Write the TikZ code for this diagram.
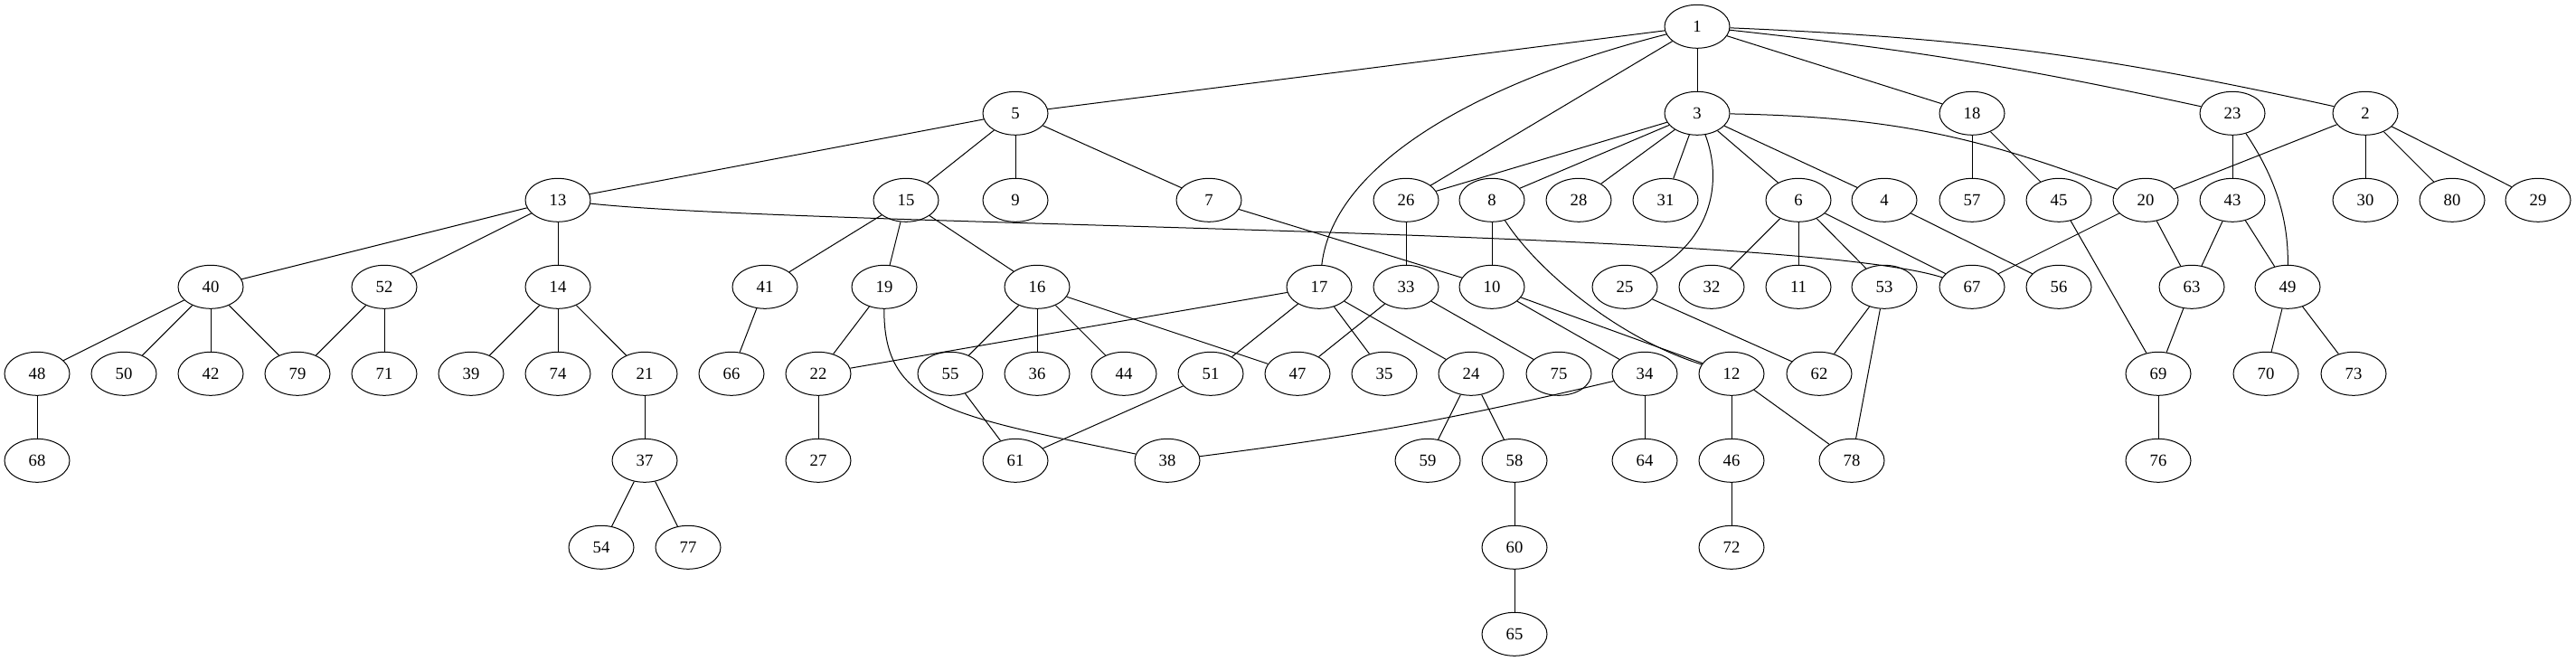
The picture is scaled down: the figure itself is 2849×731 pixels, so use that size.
\documentclass[tikz,border=0pt]{standalone}
\usepackage{fontspec}
\setmainfont{Liberation Serif}
\usetikzlibrary{shapes.geometric}
\begin{document}
\begin{tikzpicture}[x=0.75pt, y=0.75pt, line width=0.75pt, tree node/.style={ellipse,draw,minimum width=54pt,minimum height=36pt,inner sep=0pt}]
\useasboundingbox (0,-701.7) rectangle (2849,29.3);
\begin{scope}[every node/.style={font=\fontsize{14}{16}\selectfont}]
% rank 0
\node[tree node] (v1) at (1877,0) {1};
% rank 1
\node[tree node] (v5) at (1123,-96) {5};
\node[tree node] (v3) at (1877,-96) {3};
\node[tree node] (v18) at (2181,-96) {18};
\node[tree node] (v23) at (2469,-96) {23};
\node[tree node] (v2) at (2616,-96) {2};
% rank 2
\node[tree node] (v13) at (617,-192) {13};
\node[tree node] (v15) at (1002,-192) {15};
\node[tree node] (v9) at (1123,-192) {9};
\node[tree node] (v7) at (1337,-192) {7};
\node[tree node] (v26) at (1555,-192) {26};
\node[tree node] (v8) at (1650,-192) {8};
\node[tree node] (v28) at (1746,-192) {28};
\node[tree node] (v31) at (1842,-192) {31};
\node[tree node] (v6) at (1989,-192) {6};
\node[tree node] (v4) at (2084,-192) {4};
\node[tree node] (v57) at (2181,-192) {57};
\node[tree node] (v45) at (2277,-192) {45};
\node[tree node] (v20) at (2373,-192) {20};
\node[tree node] (v43) at (2469,-192) {43};
\node[tree node] (v30) at (2616,-192) {30};
\node[tree node] (v80) at (2712,-192) {80};
\node[tree node] (v29) at (2807,-192) {29};
% rank 3
\node[tree node] (v40) at (233,-288) {40};
\node[tree node] (v52) at (425,-288) {52};
\node[tree node] (v14) at (617,-288) {14};
\node[tree node] (v41) at (846,-288) {41};
\node[tree node] (v19) at (978,-288) {19};
\node[tree node] (v16) at (1147,-288) {16};
\node[tree node] (v17) at (1459,-288) {17};
\node[tree node] (v33) at (1555,-288) {33};
\node[tree node] (v10) at (1650,-288) {10};
\node[tree node] (v25) at (1797,-288) {25};
\node[tree node] (v32) at (1893,-288) {32};
\node[tree node] (v11) at (1989,-288) {11};
\node[tree node] (v53) at (2084,-288) {53};
\node[tree node] (v67) at (2181,-288) {67};
\node[tree node] (v56) at (2277,-288) {56};
\node[tree node] (v63) at (2424,-288) {63};
\node[tree node] (v49) at (2530,-288) {49};
% rank 4
\node[tree node] (v48) at (41,-384) {48};
\node[tree node] (v50) at (137,-384) {50};
\node[tree node] (v42) at (233,-384) {42};
\node[tree node] (v79) at (329,-384) {79};
\node[tree node] (v71) at (425,-384) {71};
\node[tree node] (v39) at (521,-384) {39};
\node[tree node] (v74) at (617,-384) {74};
\node[tree node] (v21) at (713,-384) {21};
\node[tree node] (v66) at (809,-384) {66};
\node[tree node] (v22) at (905,-384) {22};
\node[tree node] (v55) at (1051,-384) {55};
\node[tree node] (v36) at (1147,-384) {36};
\node[tree node] (v44) at (1243,-384) {44};
\node[tree node] (v51) at (1339,-384) {51};
\node[tree node] (v47) at (1435,-384) {47};
\node[tree node] (v35) at (1531,-384) {35};
\node[tree node] (v24) at (1627,-384) {24};
\node[tree node] (v75) at (1724,-384) {75};
\node[tree node] (v34) at (1819,-384) {34};
\node[tree node] (v12) at (1915,-384) {12};
\node[tree node] (v62) at (2012,-384) {62};
\node[tree node] (v69) at (2387,-384) {69};
\node[tree node] (v70) at (2506,-384) {70};
\node[tree node] (v73) at (2603,-384) {73};
% rank 5
\node[tree node] (v68) at (41,-480) {68};
\node[tree node] (v37) at (713,-480) {37};
\node[tree node] (v27) at (905,-480) {27};
\node[tree node] (v61) at (1123,-480) {61};
\node[tree node] (v38) at (1291,-480) {38};
\node[tree node] (v59) at (1579,-480) {59};
\node[tree node] (v58) at (1675,-480) {58};
\node[tree node] (v64) at (1819,-480) {64};
\node[tree node] (v46) at (1915,-480) {46};
\node[tree node] (v78) at (2048,-480) {78};
\node[tree node] (v76) at (2387,-480) {76};
% rank 6
\node[tree node] (v54) at (665,-576) {54};
\node[tree node] (v77) at (761,-576) {77};
\node[tree node] (v60) at (1675,-576) {60};
\node[tree node] (v72) at (1915,-576) {72};
% rank 7
\node[tree node] (v65) at (1675,-672) {65};
\end{scope}
\begin{scope}
\draw (v1) edge (v5);
\draw (v1) edge (v3);
\draw (v1) edge (v26);
\draw (v1) .. controls (1640,-60) and (1475,-150) .. (v17);
\draw (v1) edge (v18);
\draw (v1) edge[bend left=3] (v23);
\draw (v1) edge[bend left=5] (v2);
\draw (v5) edge (v13);
\draw (v5) edge (v15);
\draw (v5) edge (v9);
\draw (v5) edge (v7);
\draw (v13) edge (v40);
\draw (v13) edge (v52);
\draw (v13) edge (v14);
\draw (v13) .. controls (900,-222) and (1980,-224) .. (v67);
\draw (v40) edge (v48);
\draw (v40) edge (v50);
\draw (v40) edge (v42);
\draw (v40) edge (v79);
\draw (v52) edge (v79);
\draw (v52) edge (v71);
\draw (v14) edge (v39);
\draw (v14) edge (v74);
\draw (v14) edge (v21);
\draw (v48) edge (v68);
\draw (v21) edge (v37);
\draw (v37) edge (v54);
\draw (v37) edge (v77);
\draw (v15) edge (v41);
\draw (v15) edge (v19);
\draw (v15) edge (v16);
\draw (v7) edge (v10);
\draw (v41) edge (v66);
\draw (v19) edge (v22);
\draw (v19) .. controls (977,-420) and (1050,-430) .. (v38);
\draw (v16) edge (v55);
\draw (v16) edge (v36);
\draw (v16) edge (v44);
\draw (v16) edge (v47);
\draw (v22) edge (v27);
\draw (v55) edge (v61);
\draw (v17) edge (v22);
\draw (v17) edge (v51);
\draw (v17) edge (v35);
\draw (v17) edge (v24);
\draw (v51) edge (v61);
\draw (v34) edge[bend left=3] (v38);
\draw (v3) edge (v26);
\draw (v3) edge (v8);
\draw (v3) edge (v28);
\draw (v3) edge (v31);
\draw (v3) .. controls (1905,-170) and (1895,-235) .. (v25);
\draw (v3) edge (v6);
\draw (v3) edge (v4);
\draw (v3) edge[bend left=10] (v20);
\draw (v26) edge (v33);
\draw (v8) edge (v10);
\draw (v8) .. controls (1700,-270) and (1790,-345) .. (v12);
\draw (v33) edge (v47);
\draw (v33) edge (v75);
\draw (v10) edge (v34);
\draw (v10) edge (v12);
\draw (v6) edge (v32);
\draw (v6) edge (v11);
\draw (v6) edge (v53);
\draw (v6) edge (v67);
\draw (v4) edge (v56);
\draw (v25) edge (v62);
\draw (v53) edge (v62);
\draw (v53) edge (v78);
\draw (v24) edge (v59);
\draw (v24) edge (v58);
\draw (v34) edge (v64);
\draw (v12) edge (v46);
\draw (v12) edge (v78);
\draw (v58) edge (v60);
\draw (v60) edge (v65);
\draw (v46) edge (v72);
\draw (v18) edge (v57);
\draw (v18) edge (v45);
\draw (v45) edge (v69);
\draw (v20) edge (v67);
\draw (v20) edge (v63);
\draw (v2) edge (v20);
\draw (v2) edge (v30);
\draw (v2) edge (v80);
\draw (v2) edge (v29);
\draw (v23) edge (v43);
\draw (v23) .. controls (2515,-165) and (2531,-210) .. (v49);
\draw (v43) edge (v63);
\draw (v43) edge (v49);
\draw (v63) edge (v69);
\draw (v49) edge (v70);
\draw (v49) edge (v73);
\draw (v69) edge (v76);
\end{scope}
\end{tikzpicture}
\end{document}
